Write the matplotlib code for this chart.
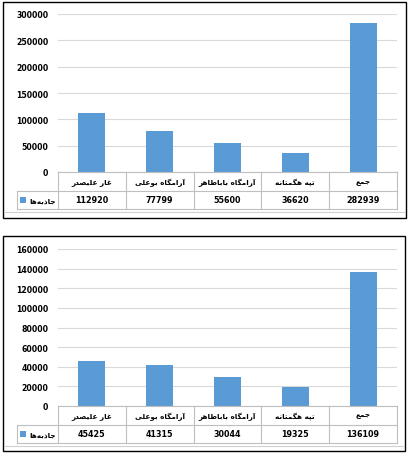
import matplotlib
matplotlib.use('Agg')
import matplotlib.pyplot as plt
from matplotlib.patches import Rectangle
from matplotlib.lines import Line2D
import matplotlib.transforms as mtransforms

# data
categories = ['غار علیصدر', 'آرامگاه بوعلی', 'آرامگاه باباطاهر', 'تپه هگمتانه', 'جمع']
series_name = 'جاذبه\u200cها'
values_top = [112920, 77799, 55600, 36620, 282939]
values_bottom = [45425, 41315, 30044, 19325, 136109]
yticks_top = [0, 50000, 100000, 150000, 200000, 250000, 300000]
yticks_bottom = [0, 20000, 40000, 60000, 80000, 100000, 120000, 140000, 160000]

BAR = '#5B9BD5'
GRID = '#D9D9D9'
TABLE = '#BFBFBF'

# minimal arabic/persian shaping (matplotlib has no shaping / bidi)
FORMS = {
    'ا': ('\uFE8D', '\uFE8E'), 'آ': ('\uFE81', '\uFE82'),
    'د': ('\uFEA9', '\uFEAA'), 'ذ': ('\uFEAB', '\uFEAC'),
    'ر': ('\uFEAD', '\uFEAE'), 'و': ('\uFEED', '\uFEEE'),
    'ب': ('\uFE8F', '\uFE90', '\uFE91', '\uFE92'),
    'پ': ('\uFB56', '\uFB57', '\uFB58', '\uFB59'),
    'ت': ('\uFE95', '\uFE96', '\uFE97', '\uFE98'),
    'ج': ('\uFE9D', '\uFE9E', '\uFE9F', '\uFEA0'),
    'ص': ('\uFEB9', '\uFEBA', '\uFEBB', '\uFEBC'),
    'ط': ('\uFEC1', '\uFEC2', '\uFEC3', '\uFEC4'),
    'ع': ('\uFEC9', '\uFECA', '\uFECB', '\uFECC'),
    'غ': ('\uFECD', '\uFECE', '\uFECF', '\uFED0'),
    'گ': ('\uFB92', '\uFB93', '\uFB94', '\uFB95'),
    'ل': ('\uFEDD', '\uFEDE', '\uFEDF', '\uFEE0'),
    'م': ('\uFEE1', '\uFEE2', '\uFEE3', '\uFEE4'),
    'ن': ('\uFEE5', '\uFEE6', '\uFEE7', '\uFEE8'),
    'ه': ('\uFEE9', '\uFEEA', '\uFEEB', '\uFEEC'),
    'ی': ('\uFBFC', '\uFBFD', '\uFBFE', '\uFBFF'),
}


def shape(s):
    out = []
    for i, ch in enumerate(s):
        f = FORMS.get(ch)
        if f is None:
            out.append(ch)
            continue
        prev = s[i - 1] if i > 0 else ''
        nxt = s[i + 1] if i + 1 < len(s) else ''
        jp = prev in FORMS and len(FORMS[prev]) == 4
        jn = len(f) == 4 and nxt in FORMS
        if jp and jn:
            out.append(f[3])
        elif jp:
            out.append(f[1])
        elif jn:
            out.append(f[2])
        else:
            out.append(f[0])
    return ''.join(out).replace('\u200c', '')[::-1]


W, H = 410, 456
fig = plt.figure(figsize=(W / 100, H / 100), dpi=100)
plt.rcParams['font.family'] = ['DejaVu Sans']


def fx(x):
    return x / W


def fy(y):
    return 1 - y / H


def draw_chart(values, yticks, frame, plot, rows):
    fx0, fy0, fx1, fy1 = frame
    fig.add_artist(Rectangle((fx(fx0), fy(fy1)), fx(fx1 - fx0), (fy1 - fy0) / H,
                             transform=fig.transFigure, fill=False,
                             edgecolor='black', lw=1.0))
    px0, py0, px1, py1 = plot
    ax = fig.add_axes([fx(px0), fy(py1), fx(px1 - px0), (py1 - py0) / H])
    x = list(range(len(values)))
    ax.bar(x, values, width=0.4, color=BAR, zorder=3)
    ax.set_xlim(-0.5, len(values) - 0.5)
    ax.set_ylim(yticks[0], yticks[-1])
    ax.set_yticks(yticks)
    ax.set_yticklabels([str(t) for t in yticks], fontsize=5.6, fontweight='bold')
    ax.tick_params(axis='y', length=0, pad=7)
    ax.set_xticks([])
    ax.grid(axis='y', color=GRID, lw=0.8, zorder=0)
    for sp in ax.spines.values():
        sp.set_visible(False)

    # data table under the plot
    r0, r1, r2 = rows
    tr = mtransforms.blended_transform_factory(ax.transData, fig.transFigure)
    lx = 17
    fig.add_artist(Line2D([fx(px0), fx(px1)], [fy(r0), fy(r0)], color=TABLE, lw=0.8))
    fig.add_artist(Line2D([fx(lx), fx(px1)], [fy(r1), fy(r1)], color=TABLE, lw=0.8))
    fig.add_artist(Line2D([fx(lx), fx(px1)], [fy(r2), fy(r2)], color=TABLE, lw=0.8))
    fig.add_artist(Line2D([fx(lx), fx(lx)], [fy(r1), fy(r2)], color=TABLE, lw=0.8))
    for k in range(len(values) + 1):
        ax.add_artist(Line2D([k - 0.5, k - 0.5], [fy(r0), fy(r2)], transform=tr,
                             color=TABLE, lw=0.8, clip_on=False))
    for k, (c, v) in enumerate(zip(categories, values)):
        ax.text(k, fy((r0 + r1) / 2), shape(c), transform=tr, ha='center',
                va='center', fontsize=5.2, fontweight='bold', clip_on=False)
        ax.text(k, fy((r1 + r2) / 2), str(v), transform=tr, ha='center',
                va='center', fontsize=5.8, fontweight='bold', clip_on=False)
    ym = (r1 + r2) / 2
    fig.add_artist(Rectangle((fx(20), fy(ym + 3)), fx(6), 6 / H,
                             transform=fig.transFigure, color=BAR, lw=0))
    fig.text(fx(56), fy(ym), shape(series_name), ha='right', va='center',
             fontsize=5.2, fontweight='bold')
    # light inner border below table
    fig.add_artist(Line2D([fx(fx0 + 1), fx(fx1 - 1)], [fy(r2 + 3), fy(r2 + 3)],
                          color='#D0D0D0', lw=0.8))
    return ax


draw_chart(values_top, yticks_top, (3, 3, 406, 219), (58, 15, 397, 173),
           (173, 192, 210))
draw_chart(values_bottom, yticks_bottom, (3, 237, 405, 452), (58, 250, 397, 407),
           (407, 426, 444))

fig.savefig('out.png', dpi=100)
